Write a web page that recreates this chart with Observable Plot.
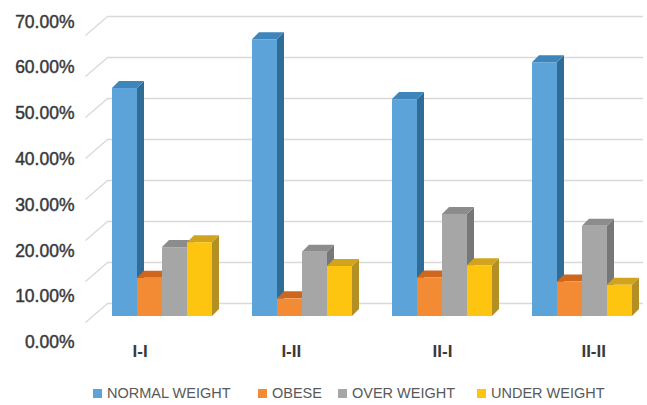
<!DOCTYPE html>
<html>
<head>
<meta charset="utf-8">
<script src="https://cdn.jsdelivr.net/npm/d3@7"></script>
<script src="https://cdn.jsdelivr.net/npm/@observablehq/plot@0.6"></script>
<style>
  body { margin: 0; background: #fff; }
  #chart { width: 647px; height: 405px; position: relative; }
  #legend { position: relative; height: 35px; font-family: "Liberation Sans", Arial, sans-serif; font-size: 14.5px; color: #595959; }
  .item { position: absolute; top: 15px; display: flex; align-items: center; white-space: nowrap; }
  .sw { width: 9px; height: 9px; margin-right: 5px; }
</style>
</head>
<body>
<div id="chart"></div>
<script>
// ---- data ----
const categories = ["I-I", "I-II", "II-I", "II-II"];
const seriesNames = ["NORMAL WEIGHT", "OBESE", "OVER WEIGHT", "UNDER WEIGHT"];
const normalWeight = [55.6, 67.5, 52.9, 61.9];
const obese = [9.3, 4.3, 9.4, 8.4];
const overWeight = [16.8, 15.7, 24.9, 22.0];
const underWeight = [18.0, 12.2, 12.4, 7.6];
const yTicks = [0, 10, 20, 30, 40, 50, 60, 70];

// ---- style ----
const frontColors = ["#5BA3D9", "#F28B34", "#A6A6A6", "#FEC510"];
const sideColors = ["#2F6D96", "#B3611C", "#777777", "#B38F24"];
const topColors = ["#3D85BA", "#CF661E", "#8C8C8C", "#D2A41E"];

const W = 647, H = 370;
const mL = 107, mR = 4, mT = 29, mB = 54;
const pxPerX = 25;                       // px per x unit (one bar width)
const xMax = (W - mL - mR) / pxPerX;
const pxPerY = (H - mT - mB) / 70;       // px per percentage point
const depthX = 7 / pxPerX, depthY = 7 / pxPerY;   // 3D depth offset in data units
const groupStep = 5.6, groupStart = 0.2;

const valuesBySeries = [normalWeight, obese, overWeight, underWeight];
const bars = [];
categories.forEach((c, g) => {
  valuesBySeries.forEach((vals, s) => {
    const x1 = groupStart + g * groupStep + s;
    bars.push({id: c + s, cat: c, s, x1, x2: x1 + 1, v: vals[g]});
  });
});

const marks = [];
// back wall gridlines
marks.push(Plot.ruleY(yTicks, {y: d => d, x1: 0, x2: xMax, dy: -13, stroke: "#d9d9d9", strokeWidth: 1.3}));
// side wall slanted lines
marks.push(Plot.link(yTicks, {
  x1: -22 / pxPerX, x2: 0,
  y1: d => d - 6 / pxPerY, y2: d => d + 13 / pxPerY,
  stroke: "#d9d9d9", strokeWidth: 1.3
}));

for (let s = 0; s < 4; s++) {
  const b = bars.filter(d => d.s === s);
  const side = b.flatMap(d => [
    {id: d.id, x: d.x2, y1: 0, y2: d.v},
    {id: d.id, x: d.x2 + depthX, y1: depthY, y2: d.v + depthY}
  ]);
  const top = b.flatMap(d => [
    {id: d.id, x: d.x1, y1: d.v, y2: d.v},
    {id: d.id, x: d.x1 + depthX, y1: d.v, y2: d.v + depthY},
    {id: d.id, x: d.x2, y1: d.v, y2: d.v + depthY},
    {id: d.id, x: d.x2 + depthX, y1: d.v + depthY, y2: d.v + depthY}
  ]);
  marks.push(Plot.area(side, {x1: "x", y1: "y1", y2: "y2", z: "id", fill: sideColors[s]}));
  marks.push(Plot.area(top, {x1: "x", y1: "y1", y2: "y2", z: "id", fill: topColors[s]}));
  marks.push(Plot.rect(b, {x1: "x1", x2: "x2", y1: 0, y2: "v", fill: frontColors[s]}));
}

// y tick labels (oblique placement of the 3D front plane)
marks.push(Plot.text(yTicks, {
  x: -33 / pxPerX,
  y: d => (-26 + d * (320.4 / 70)) / pxPerY,
  text: d => d.toFixed(2) + "%",
  textAnchor: "end",
  fontSize: 17.5,
  fill: "#383838",
  stroke: "#383838",
  strokeWidth: 0.45,
  fontFamily: "Liberation Sans, Arial, sans-serif"
}));

// category labels with slight perspective spread
const refCenter = groupStart + 2 * groupStep + 2;
marks.push(Plot.text(categories, {
  x: (d, i) => refCenter + ((groupStart + i * groupStep + 2) - refCenter) * 1.08,
  y: -35 / pxPerY,
  text: d => d,
  fontSize: 17,
  fontWeight: "bold",
  fill: "#3a3a3a",
  fontFamily: "Liberation Sans, Arial, sans-serif"
}));

const plot = Plot.plot({
  width: W, height: H,
  marginLeft: mL, marginRight: mR, marginTop: mT, marginBottom: mB,
  x: {type: "linear", domain: [0, xMax], axis: null},
  y: {type: "linear", domain: [0, 70], axis: null},
  style: {background: "#fff", overflow: "visible"},
  marks
});
const chart = document.getElementById("chart");
chart.appendChild(plot);

// legend
const legend = document.createElement("div");
legend.id = "legend";
const legendLeft = [93, 258, 338, 477];
seriesNames.forEach((n, i) => {
  const it = document.createElement("div");
  it.className = "item";
  it.style.left = legendLeft[i] + "px";
  it.innerHTML = `<span class="sw" style="background:${frontColors[i]}"></span><span>${n}</span>`;
  legend.appendChild(it);
});
chart.appendChild(legend);
</script>
</body>
</html>
